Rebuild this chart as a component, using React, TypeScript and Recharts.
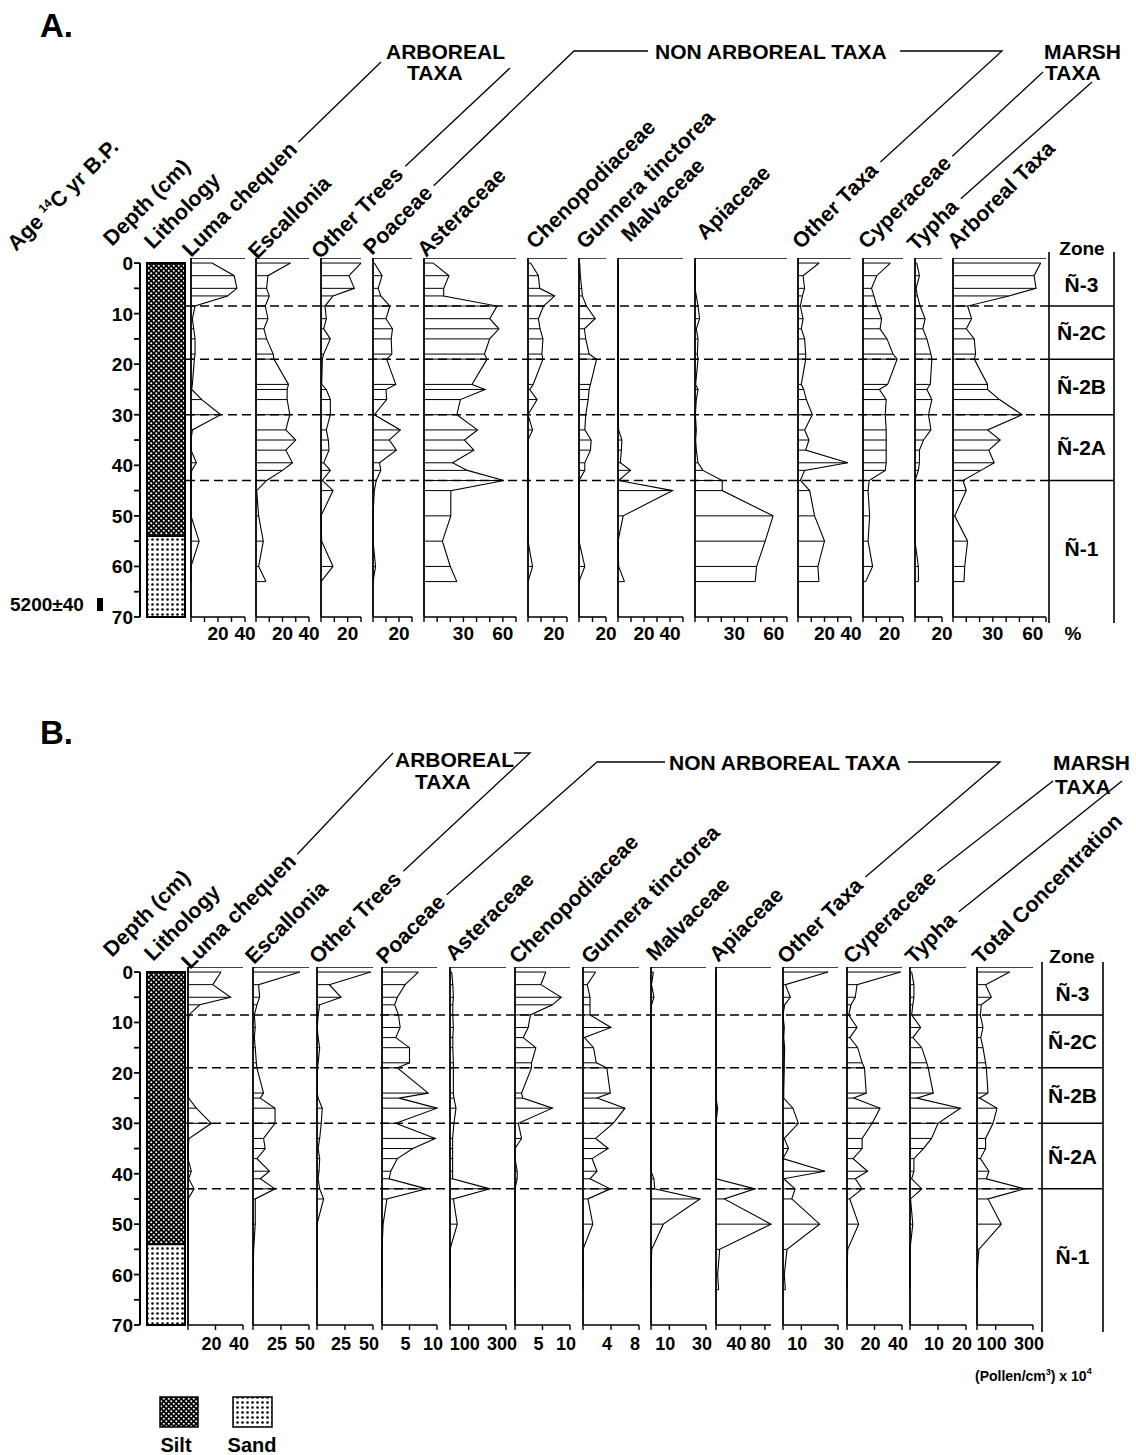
import React from 'react';
import { ComposedChart, Line, XAxis, YAxis, ReferenceLine, ReferenceArea } from 'recharts';

const FONT = '"Liberation Sans", Arial, Helvetica, sans-serif';

// ---------- DATA ----------
const sampleDepths = [0, 2.5, 5, 6.5, 8.5, 11, 13, 15, 18, 19, 24, 25, 27, 30, 33, 35, 37, 39.5, 41, 43, 45, 50, 55, 60, 63];
const depthTicks = [0, 5, 10, 15, 20, 25, 30, 35, 40, 45, 50, 55, 60, 65, 70];
const depthLabels = [0, 10, 20, 30, 40, 50, 60, 70];
const zones = [
  { name: 'Ñ-3', top: 0, bottom: 8.5 },
  { name: 'Ñ-2C', top: 8.5, bottom: 19 },
  { name: 'Ñ-2B', top: 19, bottom: 30 },
  { name: 'Ñ-2A', top: 30, bottom: 43 },
  { name: 'Ñ-1', top: 43, bottom: 70 },
];
const lithology = [
  { unit: 'Silt', top: 0, bottom: 54 },
  { unit: 'Sand', top: 54, bottom: 70 },
];
const ageLabel = '5200±40';

const taxaA = ['Luma chequen', 'Escallonia', 'Other Trees', 'Poaceae', 'Asteraceae', 'Chenopodiaceae', 'Gunnera tinctorea', 'Malvaceae', 'Apiaceae', 'Other Taxa', 'Cyperaceae', 'Typha', 'Arboreal Taxa'];
const taxaB = ['Luma chequen', 'Escallonia', 'Other Trees', 'Poaceae', 'Asteraceae', 'Chenopodiaceae', 'Gunnera tinctorea', 'Malvaceae', 'Apiaceae', 'Other Taxa', 'Cyperaceae', 'Typha', 'Total Concentration'];

// Panel A: percentages
const lumaA = [15.5, 32, 34, 27, 3, 1, 2, 3, 3, 2.5, 1, 0.5, 8, 22, 1, 0, 0, 4, 0.5, 0, 0, 0, 6, 0, 0];
const escalloniaA = [26, 9, 8, 10, 7, 9, 6, 8, 13, 13.5, 24.5, 23.5, 23.5, 25.5, 22.5, 30, 22.5, 27.5, 20, 8, 0.5, 2, 5.5, 2, 7.5];
const otherTreesA = [30, 21, 25, 9, 3, 4, 2, 7, 2, 1, 0.5, 4, 7, 7, 4, 5.5, 6, 2, 7, 1, 9, 0, 0.5, 9, 0];
const poaceaeA = [1, 7, 4, 6, 13, 10, 15, 14, 14.5, 10.5, 17.5, 10, 10.5, 1, 21, 12.5, 18, 5, 6, 2.5, 1, 0, 0, 2, 0];
const asteraceaeA = [7, 19, 15, 15, 55.6, 50, 57, 50, 46, 48, 36.5, 46.5, 27.7, 25, 40.7, 30.8, 38, 21.7, 33, 60.8, 20.4, 20.4, 14, 20, 25];
const chenopodiaceaeA = [2, 8, 9, 20.5, 12, 8, 9.3, 11.5, 10.7, 11.5, 4, 1.3, 7, 0, 3.5, 0, 0, 0, 0, 0, 0, 0, 0, 3.5, 0];
const gunneraA = [0.5, 1, 2, 2.5, 5.5, 12, 4, 5, 7.5, 13, 8.5, 7.5, 6.8, 5, 4.3, 9, 8.5, 4.3, 4.3, 0, 0, 0, 0, 4.3, 0];
const malvaceaeA = [0, 0, 0, 0, 0, 0, 0, 0, 0, 0, 0, 0, 0, 0, 0.5, 3, 2.6, 1.8, 9.6, 0.5, 42, 4, 0, 0.5, 5];
const apiaceaeA = [0, 0, 0, 1, 2.3, 3.5, 1, 2.3, 1.8, 2.3, 0.5, 2.3, 1, 0.3, 1, 0.5, 1, 2.3, 6, 20.7, 20.7, 59.4, 53.4, 46.9, 45.8];
const otherTaxaA = [16, 3.8, 5, 3.3, 1.8, 3.8, 2.5, 5, 5.8, 5.8, 2.5, 4.3, 6.3, 10.8, 5, 8.3, 5.8, 37.5, 5, 1.8, 8.8, 12.5, 20, 15, 15.8];
const cyperaceaeA = [20.5, 10.3, 6.4, 8.2, 10.3, 14, 12.8, 18, 22.5, 25.6, 18.5, 12.3, 17.4, 16.7, 17.4, 17.4, 17.4, 17.4, 16.7, 4.6, 3.8, 5, 3.8, 7.2, 2];
const typhaA = [1.3, 3.3, 0.8, 1.8, 3.8, 7.5, 5.8, 8.8, 11.8, 12.5, 11.3, 8.8, 12.5, 10, 11.8, 6.3, 3.3, 3.3, 2.5, 0, 0, 0, 0, 2.5, 2.5];
const arborealA = [66, 61, 62.5, 42, 11, 14, 10, 16, 17, 16, 26, 26, 35, 52, 26, 35.5, 27, 31, 21, 7.5, 10, 1.3, 11, 8.8, 8.3];

// Panel B: concentrations (pollen/cm3 x 10^4)
const lumaB = [24, 18, 31, 8.5, 0.7, 0, 0, 0, 0, 0, 0, 0.5, 6, 17, 0.7, 0, 0, 2.4, 0.5, 4.4, 0, 0, 0, 0, 0];
const escalloniaB = [41.8, 5, 5.9, 3.5, 1.2, 2, 1.2, 2, 3, 3.5, 9.4, 6.5, 19.7, 19.7, 9.4, 10.9, 3.5, 14.7, 6.5, 19.7, 2, 2, 0.6, 0, 0];
const otherTreesB = [48, 11, 21.5, 2.4, 1, 0.3, 1, 2.4, 1, 0.5, 0.3, 1, 4.7, 3.8, 2.4, 1, 2.4, 1.8, 1, 2.4, 5.9, 0, 0, 0, 0];
const poaceaeB = [6.6, 4.2, 2.8, 2.3, 3, 3.3, 2.5, 5, 5, 2.8, 8.4, 3.1, 10, 2.5, 9.7, 5.6, 2.8, 1.6, 1.3, 8.1, 0.9, 0.2, 0, 0, 0];
const asteraceaeB = [9, 15, 18, 15, 15, 18, 15, 15, 18, 18, 18, 21, 32, 21, 14, 14, 14, 14, 14, 214, 18, 39, 0, 0, 0];
const chenopodiaceaeB = [5.6, 4.7, 8.4, 6.8, 2.8, 2.4, 1.5, 3.8, 3, 3, 1.2, 1.4, 6.8, 0.6, 1.2, 0, 0, 0.4, 0.4, 0, 0, 0, 0, 0, 0];
const gunneraB = [1.8, 0.6, 1, 1, 1, 4, 0.2, 1.5, 1.9, 3.4, 3.9, 2, 6, 4.3, 1.8, 3.6, 1.3, 2, 1, 3.9, 0.7, 1.4, 0, 0, 0];
const malvaceaeB = [1.3, 0.3, 1.6, 0.3, 0, 0, 0, 0, 0, 0, 0, 0, 0, 0, 0, 0, 0, 0, 1.6, 2, 26.7, 6.7, 0.4, 0, 0];
const apiaceaeB = [0, 0, 0, 0, 0, 0, 0, 0, 0, 0, 0, 0, 2.7, 0, 0, 0, 0, 0, 0, 64, 13.5, 90, 6, 2.7, 4.3];
const otherTaxaB = [24.6, 1.3, 4, 0.9, 0, 0.7, 0.4, 0.9, 0.7, 0.7, 0.4, 0.4, 5.4, 8.4, 0.7, 3, 0, 22.8, 0.4, 6.6, 4.8, 20, 2.2, 0.7, 1.3];
const cyperaceaeB = [39, 7.3, 6, 2.9, 1.2, 7.3, 2, 7.8, 11, 12.7, 14, 4.9, 24, 18.3, 11, 11, 4.4, 15, 6, 11, 2, 8.5, 0.5, 0, 0];
const typhaB = [0.6, 1.4, 1.4, 1, 0.6, 3.8, 1, 4.2, 6, 6.5, 8.3, 2.4, 18, 10, 7.7, 4.8, 1.4, 1.4, 0.6, 4.2, 0.2, 1, 0, 0, 0];
const totalConcB = [175, 46, 77, 23, 18, 32, 20, 32, 46, 50, 59, 14, 107, 86, 46, 46, 18, 64, 50, 255, 59, 130, 10, 0, 0];

const seriesA = [lumaA, escalloniaA, otherTreesA, poaceaeA, asteraceaeA, chenopodiaceaeA, gunneraA, malvaceaeA, apiaceaeA, otherTaxaA, cyperaceaeA, typhaA, arborealA];
const seriesB = [lumaB, escalloniaB, otherTreesB, poaceaeB, asteraceaeB, chenopodiaceaeB, gunneraB, malvaceaeB, apiaceaeB, otherTaxaB, cyperaceaeB, typhaB, totalConcB];

// Axis configuration
const maxA = [40, 40, 30, 30, 70, 30, 20, 50, 70, 40, 30, 20, 70];
const ticksA = [
  [0, 10, 20, 30, 40], [0, 10, 20, 30, 40], [0, 10, 20, 30], [0, 10, 20, 30],
  [0, 10, 20, 30, 40, 50, 60, 70], [0, 10, 20, 30], [0, 10, 20], [0, 10, 20, 30, 40, 50],
  [0, 10, 20, 30, 40, 50, 60, 70], [0, 10, 20, 30, 40], [0, 10, 20, 30], [0, 10, 20],
  [0, 10, 20, 30, 40, 50, 60, 70],
];
const tickLabelsA = [[20, 40], [20, 40], [20], [20], [30, 60], [20], [20], [20, 40], [30, 60], [20, 40], [20], [20], [30, 60]];

const maxB = [40, 50, 50, 10, 300, 10, 8, 30, 90, 30, 40, 20, 300];
const ticksB = [[0, 20, 40], [0, 25, 50], [0, 25, 50], [0, 5, 10], [0, 100, 300], [0, 5, 10], [0, 4, 8], [0, 10, 30], [0, 40, 80], [0, 10, 30], [0, 20, 40], [0, 10, 20], [0, 100, 300]];
const tickLabelsB = [[20, 40], [25, 50], [25, 50], [5, 10], [100, 300], [5, 10], [4, 8], [10, 30], [40, 80], [10, 30], [20, 40], [10, 20], [100, 300]];

// ---------- LAYOUT ----------
const colLeftA = [191, 256, 321, 373, 424, 528, 579, 618, 695, 798, 863, 915, 953];
const colRightA = [245, 309, 361, 412, 516, 567, 606, 683, 787, 851, 903, 942, 1046];
const colLeftB = [188, 253, 317, 382, 450, 515, 583, 651, 716, 783, 847, 910, 977];
const colRightB = [243, 309, 373, 437, 506, 570, 639, 706, 771, 838, 902, 966, 1033];

const headA = [[191, 258], [257, 260], [320, 260], [372, 256], [426, 258], [535, 250], [585, 250], [630, 243], [705, 241], [801, 250], [867, 250], [916, 252], [956, 250]];
const headB = [[190, 970], [254, 965], [318, 965], [385, 965], [454, 962], [518, 965], [590, 965], [655, 962], [718, 963], [786, 965], [852, 965], [914, 965], [981, 965]];

const PA = { top: 258, bottom: 617, zoneL: 1049, zoneR: 1114, lithR: 186, tickMargin: 4, labelDx: 0, tickFs: 19 };
const PB = { top: 967, bottom: 1325, zoneL: 1042, zoneR: 1103, lithR: 184, tickMargin: 6, labelDx: -4, tickFs: 18 };

const LABEL_FS = 21.5;
const W: Record<string, number> = {
  ' ': 278, '(': 333, ')': 333, '.': 278, '-': 333, A: 722, B: 722, C: 722, D: 722, E: 667, G: 778, L: 611, M: 833, O: 778, P: 667, T: 611,
  a: 556, b: 611, c: 556, d: 611, e: 556, g: 611, h: 611, i: 278, l: 278, m: 889, n: 611, o: 611, p: 611, q: 611, r: 389, s: 556, t: 333, u: 611, v: 556, x: 556, y: 556,
};
const textLen = (s: string, fs: number) => s.split('').reduce((a, c) => a + (W[c] ?? 600), 0) / 1000 * fs;
const labelEnd = (anchor: number[], s: string) => {
  const d = textLen(s, LABEL_FS) + 6;
  const k = Math.SQRT1_2;
  return [anchor[0] + d * k - 6 * k, anchor[1] - d * k - 6 * k];
};

const zeroKey = () => 0;

// ---------- COMPONENTS ----------
function Profile(props: any) {
  const { values, x0, x1, top, bottom, max, ticks, labels, tickMargin, labelDx, tickFs } = props;
  const pad = 26;
  const axisH = 40;
  const w = x1 - x0 + 2 * pad;
  const h = bottom - top + axisH;
  const data = sampleDepths.map((d, i) => ({ depth: d, v: values[i] }));
  const tickFn = (p: any) => {
    const v = p.payload.value;
    if (!labels.includes(v)) return <g />;
    return (
      <text x={p.x + labelDx} y={p.y + 14} textAnchor="middle" fontSize={tickFs} fontWeight="bold" fontFamily={FONT} fill="#000">{v}</text>
    );
  };
  return (
    <div style={{ position: 'absolute', left: x0 - pad, top, width: w, height: h }}>
      <ComposedChart width={w} height={h} data={data} layout="vertical" margin={{ top: 0, right: pad, bottom: 0, left: pad }}>
        <XAxis type="number" domain={[0, max]} ticks={ticks} interval={0} height={axisH} tickSize={5} tickMargin={tickMargin}
          axisLine={{ stroke: '#000', strokeWidth: 1.6 }} tickLine={{ stroke: '#000', strokeWidth: 1.4 }} tick={tickFn} />
        <YAxis type="number" dataKey="depth" domain={[-1, 70]} hide width={0} allowDataOverflow />
        <ReferenceLine x={0} stroke="#000" strokeWidth={1.8} />
        <ReferenceLine y={-1} stroke="#000" strokeWidth={1.4} />
        {data.filter((p) => p.v > 0).map((p) => (
          <ReferenceLine key={p.depth} segment={[{ x: 0, y: p.depth }, { x: p.v, y: p.depth }]} stroke="#000" strokeWidth={1} />
        ))}
        <Line dataKey="v" type="linear" stroke="#000" strokeWidth={1.1} dot={false} isAnimationActive={false} />
      </ComposedChart>
    </div>
  );
}

function DepthAxis({ top, bottom }: any) {
  const Wd = 190;
  const axisX = 140;
  const m = 16;
  const h = bottom - top + 2 * m;
  const tickFn = (p: any) => {
    const v = p.payload.value;
    if (!depthLabels.includes(v)) return <g />;
    return <text x={p.x} y={p.y + 7} textAnchor="end" fontSize={19} fontWeight="bold" fontFamily={FONT} fill="#000">{v}</text>;
  };
  return (
    <div style={{ position: 'absolute', left: 0, top: top - m, width: Wd, height: h }}>
      <ComposedChart width={Wd} height={h} layout="vertical" data={lithology} margin={{ top: m, right: 0, bottom: m, left: 0 }}>
        <XAxis type="number" domain={[0, Wd - axisX]} hide height={0} />
        <YAxis type="number" dataKey="top" domain={[-1, 70]} allowDataOverflow ticks={depthTicks} interval={0} width={axisX}
          tickSize={6} tickMargin={1} axisLine={false} tickLine={{ stroke: '#000', strokeWidth: 1.8 }} tick={tickFn} />
        <Line dataKey={zeroKey} stroke="none" dot={false} isAnimationActive={false} legendType="none" />
        {lithology.map((l) => (
          <ReferenceArea key={l.unit} x1={7} x2={45} y1={l.top} y2={l.bottom} fill={`url(#pat-${l.unit})`} fillOpacity={1} stroke="#000" strokeWidth={2} ifOverflow="visible" />
        ))}
        <ReferenceLine segment={[{ x: 0, y: 0 }, { x: 0, y: 70 }]} stroke="#000" strokeWidth={2} ifOverflow="visible" />
      </ComposedChart>
    </div>
  );
}

function ZoneLines({ left, right, top, bottom }: any) {
  const w = right - left;
  const h = bottom - top;
  return (
    <div style={{ position: 'absolute', left, top, width: w, height: h }}>
      <ComposedChart width={w} height={h} layout="vertical" data={zones} margin={{ top: 0, right: 0, bottom: 0, left: 0 }}>
        <XAxis type="number" hide domain={[0, 1]} height={0} />
        <YAxis type="number" dataKey="top" hide domain={[-1, 70]} width={0} allowDataOverflow />
        <Line dataKey={zeroKey} stroke="none" dot={false} isAnimationActive={false} legendType="none" />
        {zones.slice(0, -1).map((z) => (
          <ReferenceLine key={z.name} y={z.bottom} stroke="#000" strokeWidth={1.5} strokeDasharray="9 5" ifOverflow="visible" />
        ))}
      </ComposedChart>
    </div>
  );
}

function ZoneColumn({ left, right, top, bottom }: any) {
  const w = right - left;
  const h = bottom - top;
  return (
    <div style={{ position: 'absolute', left, top, width: w, height: h }}>
      <ComposedChart width={w} height={h} layout="vertical" data={zones} margin={{ top: 0, right: 0, bottom: 0, left: 0 }}>
        <XAxis type="number" hide domain={[0, 1]} height={0} />
        <YAxis type="number" dataKey="top" hide domain={[-1, 70]} width={0} allowDataOverflow />
        <Line dataKey={zeroKey} stroke="none" dot={false} isAnimationActive={false} legendType="none" />
        {zones.slice(0, -1).map((z) => (
          <ReferenceLine key={z.name} y={z.bottom} stroke="#000" strokeWidth={1.5} ifOverflow="visible" />
        ))}
        {zones.map((z) => (
          <ReferenceArea key={'a' + z.name} y1={z.top} y2={z.bottom} fill="none" fillOpacity={0} stroke="none" ifOverflow="visible"
            label={{ value: z.name, position: 'center', fill: '#000', fontSize: 21, fontWeight: 'bold', fontFamily: FONT }} />
        ))}
      </ComposedChart>
    </div>
  );
}

function Panel({ P, series, maxes, ticks, labels, lefts, rights, names }: any) {
  return (
    <>
      <ZoneLines left={P.lithR} right={P.zoneL} top={P.top} bottom={P.bottom} />
      <DepthAxis top={P.top} bottom={P.bottom} />
      {series.map((vals: number[], i: number) => (
        <Profile key={names[i]} values={vals} x0={lefts[i]} x1={rights[i]} top={P.top} bottom={P.bottom} max={maxes[i]}
          ticks={ticks[i]} labels={labels[i]} tickMargin={P.tickMargin} labelDx={P.labelDx} tickFs={P.tickFs} />
      ))}
      <ZoneColumn left={P.zoneL} right={P.zoneR} top={P.top} bottom={P.bottom} />
    </>
  );
}

const txt = { fontFamily: FONT, fontWeight: 'bold' as const, fill: '#000' };

function RotLabel({ a, children }: any) {
  return (
    <text x={a[0]} y={a[1]} transform={`rotate(-45 ${a[0]} ${a[1]})`} fontSize={LABEL_FS} {...txt}>{children}</text>
  );
}

function Overlay() {
  const lead = { stroke: '#000', strokeWidth: 1.3, fill: 'none' };
  const eA = (i: number) => labelEnd(headA[i], taxaA[i]);
  const eB = (i: number) => labelEnd(headB[i], taxaB[i]);
  const pts = (arr: number[][]) => arr.map((p) => p.join(',')).join(' ');
  return (
    <svg width={1136} height={1455} style={{ position: 'absolute', left: 0, top: 0, pointerEvents: 'none' }}>
      <defs>
        <pattern id="pat-Silt" width="5" height="5" patternUnits="userSpaceOnUse">
          <rect width="5" height="5" fill="#000" />
          <circle cx="1.25" cy="1.25" r="1.05" fill="#fff" />
          <circle cx="3.75" cy="3.75" r="1.05" fill="#fff" />
        </pattern>
        <pattern id="pat-Sand" width="5" height="5" patternUnits="userSpaceOnUse">
          <rect width="5" height="5" fill="#fff" />
          <circle cx="2.5" cy="2.5" r="1.3" fill="#000" />
        </pattern>
      </defs>

      {/* Panel A */}
      <text x={40} y={37} fontSize={33} {...txt}>A.</text>
      <RotLabel a={[16, 252]}>Age <tspan fontSize={12} dy={-8}>14</tspan><tspan dy={8}>C yr B.P.</tspan></RotLabel>
      <RotLabel a={[112, 247]}>Depth (cm)</RotLabel>
      <RotLabel a={[153, 250]}>Lithology</RotLabel>
      {taxaA.map((t, i) => <RotLabel key={t} a={headA[i]}>{t}</RotLabel>)}
      <text x={386} y={59} fontSize={21} {...txt}>ARBOREAL</text>
      <text x={407} y={80} fontSize={21} {...txt}>TAXA</text>
      <text x={655} y={59} fontSize={21} {...txt}>NON ARBOREAL TAXA</text>
      <text x={1044} y={59} fontSize={21} {...txt}>MARSH</text>
      <text x={1045} y={80} fontSize={21} {...txt}>TAXA</text>
      <polyline points={pts([eA(0), [381, 62]])} {...lead} />
      <polyline points={pts([eA(2), [510, 68]])} {...lead} />
      <polyline points={pts([eA(3), [574, 51], [648, 51]])} {...lead} />
      <polyline points={pts([[900, 51], [1002, 51], eA(9)])} {...lead} />
      <polyline points={pts([eA(10), [1043, 72]])} {...lead} />
      <polyline points={pts([eA(11), [1092, 82]])} {...lead} />
      <text x={1082} y={255} fontSize={19} textAnchor="middle" {...txt}>Zone</text>
      <line x1={PA.zoneL} y1={252} x2={PA.zoneL} y2={623} stroke="#000" strokeWidth={1.6} />
      <line x1={PA.zoneR} y1={252} x2={PA.zoneR} y2={623} stroke="#000" strokeWidth={1.6} />
      <text x={1073} y={640} fontSize={19} textAnchor="middle" {...txt}>%</text>
      <text x={10} y={611} fontSize={19} {...txt}>{ageLabel}</text>
      <rect x={97} y={598} width={6} height={13} fill="#000" />

      {/* Panel B */}
      <text x={40} y={744} fontSize={33} {...txt}>B.</text>
      <RotLabel a={[112, 958]}>Depth (cm)</RotLabel>
      <RotLabel a={[153, 962]}>Lithology</RotLabel>
      {taxaB.map((t, i) => <RotLabel key={t} a={headB[i]}>{t}</RotLabel>)}
      <text x={395} y={767} fontSize={21} {...txt}>ARBOREAL</text>
      <text x={415} y={789} fontSize={21} {...txt}>TAXA</text>
      <text x={669} y={770} fontSize={21} {...txt}>NON ARBOREAL TAXA</text>
      <text x={1053} y={770} fontSize={21} {...txt}>MARSH</text>
      <text x={1055} y={794} fontSize={21} {...txt}>TAXA</text>
      <polyline points={pts([eB(0), [393, 753]])} {...lead} />
      <polyline points={pts([eB(2), [530, 753], [514, 753]])} {...lead} />
      <polyline points={pts([eB(3), [597, 762], [665, 762]])} {...lead} />
      <polyline points={pts([[908, 762], [1000, 762], eB(9)])} {...lead} />
      <polyline points={pts([eB(10), [1053, 781]])} {...lead} />
      <polyline points={pts([eB(11), [1122, 781]])} {...lead} />
      <text x={1072} y={963} fontSize={19} textAnchor="middle" {...txt}>Zone</text>
      <line x1={PB.zoneL} y1={962} x2={PB.zoneL} y2={1332} stroke="#000" strokeWidth={1.6} />
      <line x1={PB.zoneR} y1={962} x2={PB.zoneR} y2={1332} stroke="#000" strokeWidth={1.6} />
      <text x={975} y={1381} fontSize={14} {...txt}>(Pollen/cm<tspan fontSize={9} dy={-6}>3</tspan><tspan dy={6}>) x 10</tspan><tspan fontSize={9} dy={-7}>4</tspan></text>

      {/* Legend */}
      <rect x={160} y={1397} width={38} height={30} fill="url(#pat-Silt)" stroke="#000" strokeWidth={1.5} />
      <rect x={233} y={1397} width={39} height={30} fill="url(#pat-Sand)" stroke="#000" strokeWidth={1.5} />
      <text x={176} y={1452} fontSize={20} textAnchor="middle" {...txt}>{lithology[0].unit}</text>
      <text x={252} y={1452} fontSize={20} textAnchor="middle" {...txt}>{lithology[1].unit}</text>
    </svg>
  );
}

export default function App() {
  return (
    <div style={{ position: 'absolute', left: 0, top: 0, width: 1136, height: 1455, background: '#fff', overflow: 'hidden' }}>
      <Panel P={PA} series={seriesA} maxes={maxA} ticks={ticksA} labels={tickLabelsA} lefts={colLeftA} rights={colRightA} names={taxaA} />
      <Panel P={PB} series={seriesB} maxes={maxB} ticks={ticksB} labels={tickLabelsB} lefts={colLeftB} rights={colRightB} names={taxaB} />
      <Overlay />
    </div>
  );
}
